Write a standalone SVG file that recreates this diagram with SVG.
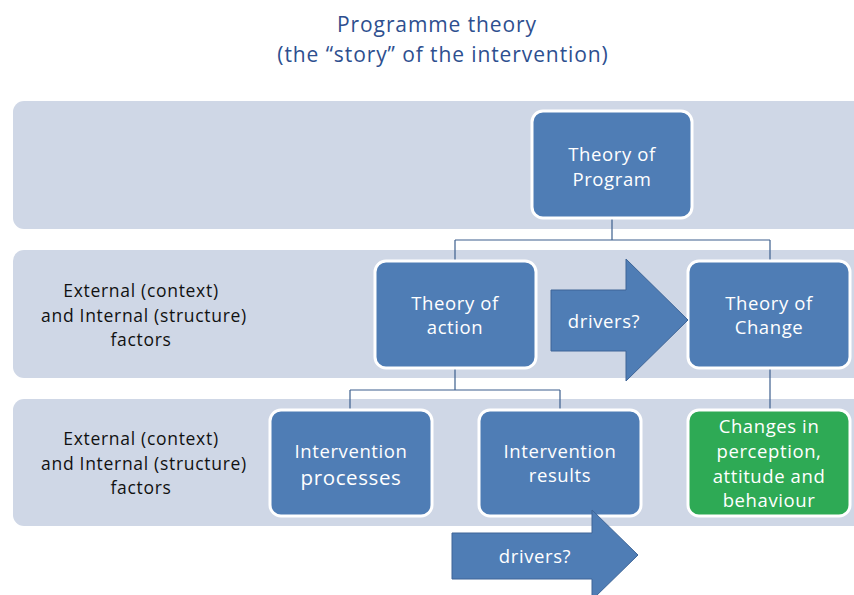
<svg xmlns="http://www.w3.org/2000/svg" width="854" height="595" viewBox="0 0 854 595">
  <style>
    .band { fill: #CFD7E6; }
    .box { fill: #4F7DB5; stroke: #FFFFFF; stroke-width: 3; }
    .green { fill: #2EAA55; stroke: #FFFFFF; stroke-width: 3; }
    .arrow { fill: #4F7DB5; stroke: #3E6597; stroke-width: 1; }
    .link { fill: none; stroke: #3D5F8E; stroke-width: 1.2; }
    text { font-family: "Open Sans", "Liberation Sans", sans-serif; text-anchor: middle; }
    .title { fill: #2E4F8F; font-size: 21px; letter-spacing: 0.9px; }
    .lbl { fill: #FFFFFF; font-size: 18.5px; letter-spacing: 0.6px; }
    .side { fill: #111111; font-size: 17.5px; letter-spacing: 0.7px; }
  </style>

  <!-- title -->
  <g id="title">
    <text class="title" x="437" y="32">Programme theory</text>
    <text class="title" x="443" y="62">(the “story” of the intervention)</text>
  </g>

  <!-- horizontal bands -->
  <g id="bands">
    <rect class="band" x="13" y="101" width="860" height="128" rx="11"/>
    <rect class="band" x="13" y="250" width="860" height="128" rx="11"/>
    <rect class="band" x="13" y="399" width="860" height="127" rx="11"/>
  </g>

  <!-- side labels -->
  <g id="factors-row2">
    <text class="side" x="141" y="297">External (context)</text>
    <text class="side" x="144" y="322">and Internal (structure)</text>
    <text class="side" x="141" y="346">factors</text>
  </g>
  <g id="factors-row3">
    <text class="side" x="141" y="445">External (context)</text>
    <text class="side" x="144" y="470">and Internal (structure)</text>
    <text class="side" x="141" y="494">factors</text>
  </g>

  <!-- connectors -->
  <g id="connectors">
    <path class="link" d="M612 218 V240 M455 240 H770 M455 240 V261 M770 240 V261"/>
    <path class="link" d="M455 368 V390 M350 390 H560 M350 390 V410 M560 390 V410"/>
    <path class="link" d="M770 368 V410"/>
  </g>

  <!-- nodes -->
  <g id="theory-of-program">
    <rect class="box" x="532" y="111" width="160" height="107" rx="11"/>
    <text class="lbl" x="612" y="161">Theory of</text>
    <text class="lbl" x="612" y="186">Program</text>
  </g>
  <g id="theory-of-action">
    <rect class="box" x="375" y="261" width="161" height="107" rx="11"/>
    <text class="lbl" x="455" y="310">Theory of</text>
    <text class="lbl" x="455" y="334">action</text>
  </g>
  <g id="theory-of-change">
    <rect class="box" x="688" y="261" width="162" height="107" rx="11"/>
    <text class="lbl" x="769" y="310">Theory of</text>
    <text class="lbl" x="769" y="334">Change</text>
  </g>
  <g id="intervention-processes">
    <rect class="box" x="270" y="410" width="162" height="106" rx="11"/>
    <text class="lbl" x="351" y="458">Intervention</text>
    <text class="lbl" x="351" y="485" style="font-size:20.5px">processes</text>
  </g>
  <g id="intervention-results">
    <rect class="box" x="479" y="410" width="162" height="106" rx="11"/>
    <text class="lbl" x="560" y="458">Intervention</text>
    <text class="lbl" x="560" y="482">results</text>
  </g>
  <g id="changes">
    <rect class="green" x="688" y="410" width="162" height="106" rx="11"/>
    <text class="lbl" x="769" y="433">Changes in</text>
    <text class="lbl" x="769" y="458">perception,</text>
    <text class="lbl" x="769" y="483">attitude and</text>
    <text class="lbl" x="769" y="507">behaviour</text>
  </g>

  <!-- block arrows -->
  <g id="drivers-1">
    <path class="arrow" d="M551 290 H626 V259 L688 320 L626 381 V351 H551 Z"/>
    <text class="lbl" x="604" y="328">drivers?</text>
  </g>
  <g id="drivers-2">
    <path class="arrow" d="M452 533 H592 V510 L638 555 L592 600 V579 H452 Z"/>
    <text class="lbl" x="535" y="563">drivers?</text>
  </g>
</svg>
